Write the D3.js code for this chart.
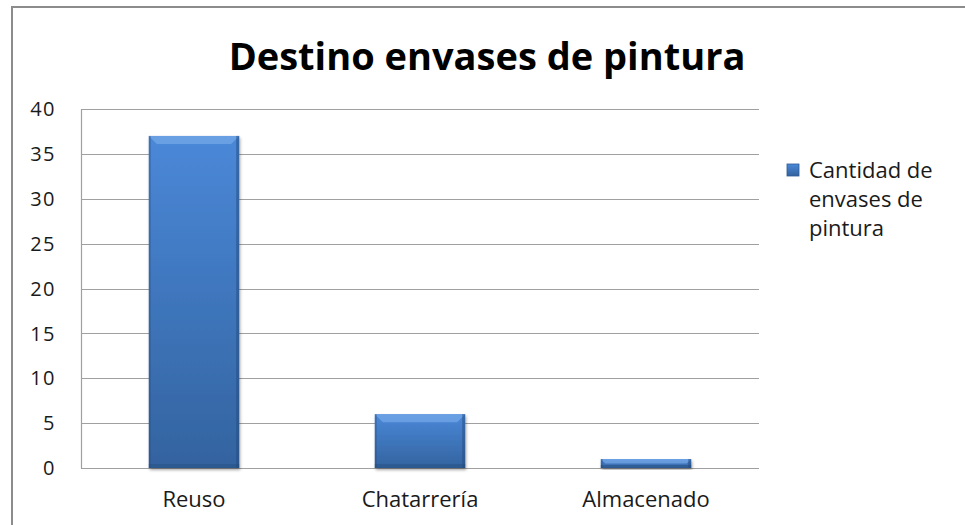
<!DOCTYPE html>
<html>
<head>
<meta charset="utf-8">
<script src="https://cdn.jsdelivr.net/npm/d3@7"></script>
<style>
  body { margin: 0; background: #fff; }
  svg { display: block; font-family: "Open Sans", "Noto Sans", sans-serif; }
</style>
</head>
<body>
<svg width="965" height="525"></svg>
<script>
// chart data
var categories = ['Reuso', 'Chatarrería', 'Almacenado'];
var values = [37, 6, 1];
var yTicks = [0, 5, 10, 15, 20, 25, 30, 35, 40];
var seriesName = ['Cantidad de', 'envases de', 'pintura'];
var title = 'Destino envases de pintura';

var svg = d3.select('svg');

// outer chart frame (runs off the right and bottom edges)
svg.append('rect')
    .attr('x', 12).attr('y', 7)
    .attr('width', 1000).attr('height', 600)
    .attr('fill', 'none')
    .attr('stroke', '#8c8c8c')
    .attr('stroke-width', 2);

var plot = {l: 81, t: 109, r: 759, b: 468};

var x = d3.scaleBand()
    .domain(categories)
    .range([plot.l, plot.r])
    .paddingInner(0.6)
    .paddingOuter(0.3);

var y = d3.scaleLinear()
    .domain([0, 40])
    .range([plot.b, plot.t]);

// gradients for the bevelled bars
var defs = svg.append('defs');
var g1 = defs.append('linearGradient').attr('id', 'barFill')
    .attr('x1', 0).attr('y1', 0).attr('x2', 0).attr('y2', 1);
g1.append('stop').attr('offset', '0%').attr('stop-color', '#4a88d8');
g1.append('stop').attr('offset', '100%').attr('stop-color', '#33639f');

var shadow = defs.append('filter').attr('id', 'shadow')
    .attr('x', '-10%').attr('y', '-10%').attr('width', '130%').attr('height', '130%');
shadow.append('feDropShadow')
    .attr('dx', 1).attr('dy', 2).attr('stdDeviation', 1.5)
    .attr('flood-color', '#000').attr('flood-opacity', 0.35);

// gridlines
svg.append('g')
    .selectAll('line')
    .data(yTicks)
    .enter().append('line')
    .attr('x1', plot.l).attr('x2', plot.r)
    .attr('y1', function(d) { return Math.round(y(d)) + 0.5; })
    .attr('y2', function(d) { return Math.round(y(d)) + 0.5; })
    .attr('stroke', '#a0a0a0')
    .attr('stroke-width', 1.2);

// y axis line
svg.append('line')
    .attr('x1', plot.l + 0.5).attr('x2', plot.l + 0.5)
    .attr('y1', plot.t).attr('y2', plot.b + 0.5)
    .attr('stroke', '#a0a0a0')
    .attr('stroke-width', 1.2);

// y tick labels
svg.append('g')
    .selectAll('text')
    .data(yTicks)
    .enter().append('text')
    .attr('x', 56)
    .attr('y', function(d) { return y(d); })
    .attr('dy', '0.36em')
    .attr('text-anchor', 'end')
    .attr('font-size', 20)
    .attr('letter-spacing', 1.5)
    .attr('fill', '#1a1a1a')
    .text(function(d) { return d; });

// bars
var bars = svg.append('g')
    .selectAll('g')
    .data(categories)
    .enter().append('g');

bars.append('rect')
    .attr('x', function(d) { return x(d); })
    .attr('y', function(d, i) { return y(values[i]); })
    .attr('width', x.bandwidth())
    .attr('height', function(d, i) { return y(0) - y(values[i]); })
    .attr('fill', 'url(#barFill)')
    .attr('filter', 'url(#shadow)');

// bevel: light top edge and dark bottom/side edges
bars.append('path')
    .attr('d', function(d, i) {
        var x0 = x(d), x1 = x(d) + x.bandwidth(), y0 = y(values[i]);
        var b = Math.min(8, (y(0) - y0) / 2);
        return 'M' + x0 + ',' + y0 + 'L' + x1 + ',' + y0 + 'L' + (x1 - b) + ',' + (y0 + b) +
            'L' + (x0 + b) + ',' + (y0 + b) + 'Z';
    })
    .attr('fill', '#7fb0ec')
    .attr('opacity', 0.6);

bars.append('rect')
    .attr('x', function(d) { return x(d) + x.bandwidth() - 3; })
    .attr('y', function(d, i) { return y(values[i]); })
    .attr('width', 3)
    .attr('height', function(d, i) { return y(0) - y(values[i]); })
    .attr('fill', '#244a7a')
    .attr('opacity', 0.5);

bars.append('rect')
    .attr('x', function(d) { return x(d); })
    .attr('y', function(d, i) { return y(values[i]); })
    .attr('width', 2)
    .attr('height', function(d, i) { return y(0) - y(values[i]); })
    .attr('fill', '#244a7a')
    .attr('opacity', 0.35);

bars.append('rect')
    .attr('x', function(d) { return x(d); })
    .attr('y', function(d, i) { return y(0) - Math.min(4, (y(0) - y(values[i])) / 3); })
    .attr('width', x.bandwidth())
    .attr('height', function(d, i) { return Math.min(4, (y(0) - y(values[i])) / 3); })
    .attr('fill', '#244a7a')
    .attr('opacity', 0.4);

// x labels
svg.append('g')
    .selectAll('text')
    .data(categories)
    .enter().append('text')
    .attr('x', function(d) { return x(d) + x.bandwidth() / 2; })
    .attr('y', 507)
    .attr('text-anchor', 'middle')
    .attr('font-size', 22)
    .attr('fill', '#1a1a1a')
    .text(function(d) { return d; });

// title
svg.append('text')
    .attr('x', 487)
    .attr('y', 70)
    .attr('text-anchor', 'middle')
    .attr('font-size', 38)
    .attr('font-weight', 'bold')
    .attr('fill', '#000')
    .text(title);

// legend
svg.append('rect')
    .attr('x', 787).attr('y', 164)
    .attr('width', 12).attr('height', 12)
    .attr('fill', 'url(#barFill)')
    .attr('stroke', '#2d5a94')
    .attr('stroke-width', 0.8);

svg.append('g')
    .selectAll('text')
    .data(seriesName)
    .enter().append('text')
    .attr('x', 809)
    .attr('y', function(d, i) { return 178 + i * 29; })
    .attr('font-size', 22)
    .attr('fill', '#1a1a1a')
    .text(function(d) { return d; });
</script>
</body>
</html>
